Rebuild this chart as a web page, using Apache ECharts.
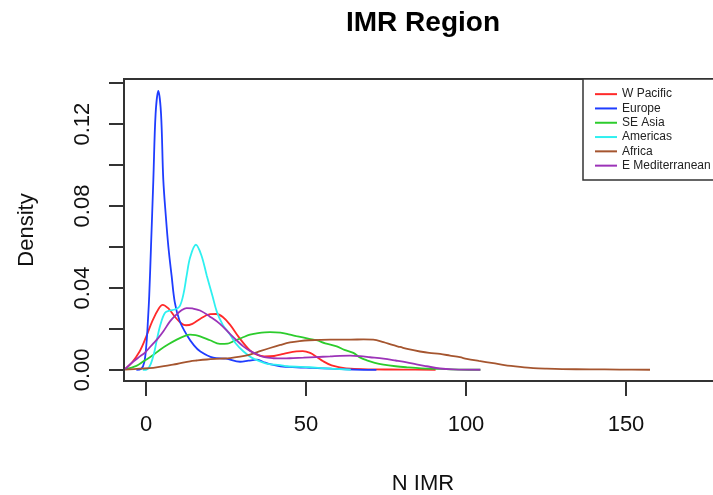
<!DOCTYPE html>
<html>
<head>
<meta charset="utf-8">
<script src="https://cdn.jsdelivr.net/npm/echarts@6/dist/echarts.min.js"></script>
<style>html,body{margin:0;padding:0;background:#fff;}#c{width:713px;height:495px;}</style>
</head>
<body>
<div id="c"></div>
<script>
var regions = ['W Pacific', 'Europe', 'SE Asia', 'Americas', 'Africa', 'E Mediterranean'];
var colors = ['#ff2a2a', '#1f3dff', '#2ccc2c', '#2ef0f0', '#a5552f', '#9c33b8'];

var wpX = [-6.5, -4.5, -2, 0, 2, 4, 5.2, 7, 9, 11, 12.5, 14.5, 17, 20, 22, 24, 26.3, 29, 32.5, 35, 37, 40, 43, 47, 49, 51.3, 53.5, 55.4, 58, 60.6, 64, 70, 80, 90.5];
var wpY = [0.0005, 0.0034, 0.009, 0.016, 0.024, 0.030, 0.0318, 0.030, 0.026, 0.0228, 0.0218, 0.0225, 0.025, 0.0272, 0.0273, 0.0258, 0.022, 0.016, 0.0095, 0.0072, 0.0066, 0.0068, 0.0078, 0.0091, 0.0092, 0.0083, 0.0062, 0.0042, 0.0022, 0.0013, 0.0006, 0.0003, 0.0002, 0.0001];

var euX = [-3, -1.5, -0.5, 0.2, 0.6, 1.0, 1.56, 2.3, 3.0, 3.85, 4.7, 5.4, 6.2, 7, 8, 9, 10.5, 12.7, 15, 17, 21, 25, 29.4, 32, 34.6, 36.5, 38.75, 42, 47, 52, 58, 65, 72];
var euY = [0, 0.0005, 0.004, 0.014, 0.024, 0.036, 0.060, 0.093, 0.125, 0.1362, 0.125, 0.093, 0.075, 0.060, 0.046, 0.033, 0.024, 0.0172, 0.012, 0.009, 0.006, 0.0055, 0.004, 0.0045, 0.005, 0.004, 0.0028, 0.0018, 0.0013, 0.001, 0.0006, 0.0002, 0];

var seX = [-6.5, -3, -0.8, 2, 4.4, 7, 9.6, 12, 13.75, 15.5, 16.9, 20, 23.1, 25.5, 27.3, 30, 32.5, 35, 38.75, 42, 45, 47, 51, 53.3, 56, 59.6, 62, 64.8, 67, 69, 71.5, 74.2, 78, 81.5, 86, 91.9, 98, 104.5];
var seY = [0.0003, 0.002, 0.0042, 0.007, 0.0099, 0.0125, 0.0148, 0.0165, 0.0172, 0.017, 0.0164, 0.0145, 0.0127, 0.0128, 0.014, 0.0157, 0.0172, 0.018, 0.0185, 0.0182, 0.0172, 0.0165, 0.0152, 0.0145, 0.013, 0.0115, 0.0098, 0.0083, 0.006, 0.0047, 0.0035, 0.0026, 0.0018, 0.0013, 0.0008, 0.0005, 0.0002, 0.0001];

var amX = [-1, 0.5, 1.5, 2.5, 3.3, 4.5, 5.9, 7.5, 9, 10.5, 11.7, 12.7, 13.8, 15.6, 17.3, 19, 20.8, 22.1, 24, 26.3, 28, 30.4, 33, 35.6, 38, 41.9, 44, 51, 56, 64];
var amY = [0, 0.0005, 0.003, 0.008, 0.014, 0.022, 0.0278, 0.029, 0.0295, 0.031, 0.037, 0.046, 0.055, 0.0611, 0.056, 0.046, 0.036, 0.0286, 0.022, 0.0172, 0.013, 0.0091, 0.006, 0.0042, 0.003, 0.0024, 0.0018, 0.0013, 0.0008, 0.0001];

var afX = [-6.5, -2, 2.3, 7.5, 9.6, 13.75, 15.8, 19, 23.1, 26.3, 29.4, 32.5, 35, 38.75, 42, 45, 48, 51, 57.5, 64, 68, 71, 74.2, 77, 79.4, 82, 85.6, 88.5, 91.9, 95, 98.1, 100.2, 104, 108.5, 112, 116.9, 121, 125.2, 130, 138.75, 148, 157.5];
var afY = [0.0002, 0.0006, 0.001, 0.0024, 0.0029, 0.0042, 0.0046, 0.0051, 0.0055, 0.0058, 0.0065, 0.0075, 0.0088, 0.0107, 0.0122, 0.0134, 0.0141, 0.0145, 0.0148, 0.0148, 0.0149, 0.0148, 0.0136, 0.0122, 0.0112, 0.0101, 0.009, 0.0083, 0.0078, 0.007, 0.0062, 0.0054, 0.0044, 0.0033, 0.0024, 0.0015, 0.0009, 0.0006, 0.0004, 0.0003, 0.0002, 0.0001];

var emX = [-6.5, -4.5, -1.9, -0.3, 2.3, 3.8, 5.5, 7.5, 9.5, 11, 12.7, 14.5, 16.9, 20, 23.1, 26.3, 28.3, 30.4, 32.5, 34.6, 37, 39.8, 43, 46, 49.2, 53, 57.5, 60.6, 63.75, 66.9, 70, 74.2, 78, 81.5, 84.5, 87.7, 91.9, 96, 104.5];
var emY = [0.0005, 0.0034, 0.0066, 0.0085, 0.013, 0.0155, 0.019, 0.0237, 0.027, 0.029, 0.0302, 0.030, 0.029, 0.026, 0.0225, 0.0175, 0.0145, 0.0115, 0.0093, 0.0077, 0.0062, 0.0057, 0.0056, 0.0058, 0.006, 0.0063, 0.0066, 0.0069, 0.007, 0.0067, 0.0062, 0.0055, 0.0046, 0.0037, 0.0027, 0.0018, 0.0007, 0.0003, 0.0001];

var xTicks = [0, 50, 100, 150];
var yTicks = [0, 0.02, 0.04, 0.06, 0.08, 0.10, 0.12, 0.14];
var yLabels = [0, 0.04, 0.08, 0.12];

var seriesX = [wpX, euX, seX, amX, afX, emX];
var seriesY = [wpY, euY, seY, amY, afY, emY];

var FONT = 'Liberation Sans';
var chart = echarts.init(document.getElementById('c'), null, {renderer: 'canvas'});

function pairs(xs, ys) {
  var out = [];
  for (var i = 0; i < xs.length; i++) out.push([xs[i], ys[i]]);
  return out;
}

var series = regions.map(function (name, i) {
  return {
    name: name,
    type: 'line',
    data: pairs(seriesX[i], seriesY[i]),
    smooth: 0.35,
    showSymbol: false,
    symbol: 'none',
    lineStyle: {color: colors[i], width: 1.8},
    itemStyle: {color: colors[i]},
    z: 2,
    animation: false
  };
});

chart.setOption({
  animation: false,
  backgroundColor: '#fff',
  title: {
    text: 'IMR Region',
    left: 423,
    textAlign: 'center',
    top: 9,
    padding: 0,
    textStyle: {fontFamily: FONT, fontSize: 28, fontWeight: 'bold', color: '#000'}
  },
  grid: {
    left: 124, top: 79, width: 598, height: 302,
    containLabel: false,
    outerBoundsMode: 'none',
    show: true, borderColor: '#333', borderWidth: 2, backgroundColor: 'transparent'
  },
  xAxis: {
    type: 'value',
    min: -6.875, max: 180,
    axisLine: {show: false, onZero: false},
    splitLine: {show: false},
    axisTick: {show: true, customValues: xTicks, length: 15, lineStyle: {color: '#333', width: 2}},
    axisLabel: {customValues: xTicks, fontFamily: FONT, fontSize: 22, color: '#111', margin: 33},
    name: 'N IMR',
    nameLocation: 'middle',
    nameGap: 92,
    nameTextStyle: {fontFamily: FONT, fontSize: 22, color: '#111'}
  },
  yAxis: {
    type: 'value',
    min: -0.0054, max: 0.142,
    axisLine: {show: false, onZero: false},
    splitLine: {show: false},
    axisTick: {show: true, customValues: yTicks, length: 15, lineStyle: {color: '#333', width: 2}},
    axisLabel: {
      customValues: yLabels, rotate: 90, fontFamily: FONT, fontSize: 22, color: '#111', margin: 30,
      formatter: function (v) { return v.toFixed(2); }
    },
    name: 'Density',
    nameLocation: 'middle',
    nameGap: 86,
    nameTextStyle: {fontFamily: FONT, fontSize: 22, color: '#111'}
  },
  legend: {
    data: regions,
    orient: 'vertical',
    left: 595, top: 87,
    padding: 0,
    itemGap: 0,
    itemWidth: 22, itemHeight: 2,
    itemTextGap: 10,
    icon: 'rect',
    selectedMode: false,
    textStyle: {fontFamily: FONT, fontSize: 12, lineHeight: 14.3, color: '#222'},
    z: 20
  },
  graphic: [{
    type: 'rect',
    shape: {x: 583, y: 79, width: 170, height: 101},
    style: {fill: '#fff', stroke: '#333', lineWidth: 1.5},
    z: 10
  }],
  series: series
});
</script>
</body>
</html>
